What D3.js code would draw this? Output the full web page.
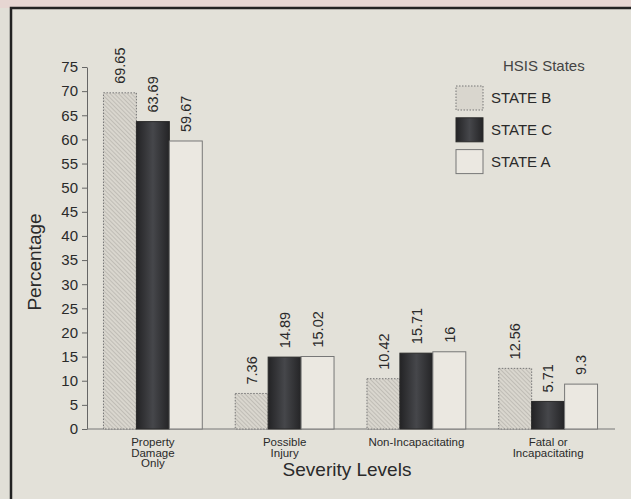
<!DOCTYPE html>
<html>
<head>
<meta charset="utf-8">
<script src="https://cdn.jsdelivr.net/npm/d3@7"></script>
<style>
  body { margin: 0; background: #e1dfd7; }
  svg { display: block; font-family: "Liberation Sans", Arial, sans-serif; }
</style>
</head>
<body>
<div id="chart"></div>
<script>
// chart values
var categories = ["Property Damage Only", "Possible Injury", "Non-Incapacitating", "Fatal or Incapacitating"];
var categoryLines = [["Property", "Damage", "Only"], ["Possible", "Injury"], ["Non-Incapacitating"], ["Fatal or", "Incapacitating"]];
var seriesNames = ["STATE B", "STATE C", "STATE A"];
var stateB = [69.65, 7.36, 10.42, 12.56];
var stateC = [63.69, 14.89, 15.71, 5.71];
var stateA = [59.67, 15.02, 16, 9.3];
var yTicks = [0, 5, 10, 15, 20, 25, 30, 35, 40, 45, 50, 55, 60, 65, 70, 75];

var svgWidth = 631;
var svgHeight = 499;

var margin = { top: 67, right: 16, bottom: 70, left: 87 };
var width = svgWidth - margin.left - margin.right;
var height = svgHeight - margin.top - margin.bottom;

var svg = d3.select("#chart")
    .append("svg")
    .attr("width", svgWidth)
    .attr("height", svgHeight);

// patterns and gradients for the bar fills
var defs = svg.append("defs");

var hatch = defs.append("pattern")
    .attr("id", "hatch")
    .attr("patternUnits", "userSpaceOnUse")
    .attr("width", 3)
    .attr("height", 3)
    .attr("patternTransform", "rotate(-45)");
hatch.append("rect").attr("width", 3).attr("height", 3).attr("fill", "#d9d6ce");
hatch.append("line")
    .attr("x1", 0).attr("y1", 0).attr("x2", 0).attr("y2", 3)
    .attr("stroke", "#9a9890").attr("stroke-width", 0.8);

var dark = defs.append("linearGradient")
    .attr("id", "darkfill")
    .attr("x1", "0%").attr("x2", "100%").attr("y1", "0%").attr("y2", "0%");
dark.append("stop").attr("offset", "0%").attr("stop-color", "#232325");
dark.append("stop").attr("offset", "50%").attr("stop-color", "#46474b");
dark.append("stop").attr("offset", "100%").attr("stop-color", "#242426");

var fills = ["url(#hatch)", "url(#darkfill)", "#ebe8e1"];
var strokes = ["#777", "#2a2a2a", "#777"];
var dashes = ["1.5,1.5", null, null];

// background and frame
svg.append("rect")
    .attr("x", 0).attr("y", 0).attr("width", svgWidth).attr("height", 8)
    .attr("fill", "#e6d6d2");
svg.append("rect")
    .attr("x", 11).attr("y", 8).attr("width", svgWidth).attr("height", svgHeight)
    .attr("fill", "#e3e1d9")
    .attr("stroke", "#222")
    .attr("stroke-width", 2.5);

var chartGroup = svg.append("g")
    .attr("transform", `translate(${margin.left}, ${margin.top})`);

// scales
var x0 = d3.scaleBand()
    .domain(categories)
    .range([0, width - 1])
    .paddingInner(0.25)
    .paddingOuter(0.125);

var x1 = d3.scaleBand()
    .domain(seriesNames)
    .range([0, x0.bandwidth()]);

var yScale = d3.scaleLinear()
    .domain([0, 75])
    .range([height, 0]);

var seriesValues = [stateB, stateC, stateA];
var rows = [];
categories.forEach(function(cat, i) {
    seriesNames.forEach(function(name, j) {
        rows.push({ cat: cat, name: name, idx: j, value: seriesValues[j][i] });
    });
});

// axes
var leftAxis = d3.axisLeft(yScale)
    .tickValues(yTicks)
    .tickSize(5)
    .tickSizeOuter(0);

var yAxisG = chartGroup.append("g").call(leftAxis);
yAxisG.select(".domain").attr("stroke", "#666");
yAxisG.selectAll(".tick line").attr("stroke", "#666");
yAxisG.selectAll(".tick text")
    .attr("x", -9)
    .attr("font-size", "15px")
    .attr("fill", "#2a2a2a")
    .attr("font-family", "Liberation Sans, Arial, sans-serif");

chartGroup.append("line")
    .attr("x1", 0).attr("x2", width)
    .attr("y1", height).attr("y2", height)
    .attr("stroke", "#777")
    .attr("stroke-width", 1);

// bars
chartGroup.selectAll(".bar")
    .data(rows)
    .enter()
    .append("rect")
    .attr("class", "bar")
    .attr("x", d => x0(d.cat) + x1(d.name))
    .attr("y", d => yScale(d.value))
    .attr("width", x1.bandwidth())
    .attr("height", d => height - yScale(d.value))
    .attr("fill", d => fills[d.idx])
    .attr("stroke", d => strokes[d.idx])
    .attr("stroke-dasharray", d => dashes[d.idx])
    .attr("stroke-width", 1);

// value labels
chartGroup.selectAll(".valueText")
    .data(rows)
    .enter()
    .append("text")
    .attr("class", "valueText")
    .attr("transform", d => `translate(${x0(d.cat) + x1(d.name) + x1.bandwidth() / 2}, ${yScale(d.value) - 9}) rotate(-90)`)
    .attr("dy", "0.36em")
    .attr("font-size", "14.5px")
    .attr("fill", "#2a2a2a")
    .attr("text-anchor", "start")
    .text(d => String(d.value));

// category labels
var catText = chartGroup.selectAll(".catText")
    .data(categories)
    .enter()
    .append("text")
    .attr("class", "catText")
    .attr("x", d => x0(d) + x0.bandwidth() / 2)
    .attr("y", height + 17)
    .attr("text-anchor", "middle")
    .attr("font-size", "11.5px")
    .attr("fill", "#2a2a2a");

catText.each(function(d, i) {
    var t = d3.select(this);
    categoryLines[i].forEach(function(line, k) {
        t.append("tspan")
            .attr("x", x0(d) + x0.bandwidth() / 2)
            .attr("dy", k === 0 ? 0 : "0.93em")
            .text(line);
    });
});

// axis titles
chartGroup.append("text")
    .attr("transform", `translate(${34 - margin.left}, ${262 - margin.top}) rotate(-90)`)
    .attr("text-anchor", "middle")
    .attr("dy", "0.35em")
    .attr("font-size", "19px")
    .attr("fill", "#2a2a2a")
    .text("Percentage");

chartGroup.append("text")
    .attr("x", 347 - margin.left)
    .attr("y", height + 47)
    .attr("text-anchor", "middle")
    .attr("font-size", "19px")
    .attr("fill", "#2a2a2a")
    .text("Severity Levels");

// legend
var legend = svg.append("g")
    .attr("transform", "translate(456, 0)");

legend.append("text")
    .attr("x", 47)
    .attr("y", 71)
    .attr("font-size", "15px")
    .attr("fill", "#444")
    .text("HSIS States");

var legendItem = legend.selectAll(".legendItem")
    .data(seriesNames)
    .enter()
    .append("g")
    .attr("class", "legendItem")
    .attr("transform", (d, i) => `translate(0, ${86 + i * 31.8})`);

legendItem.append("rect")
    .attr("width", 27)
    .attr("height", 24)
    .attr("fill", (d, i) => i === 0 ? "#d9d6ce" : fills[i])
    .attr("stroke", (d, i) => strokes[i])
    .attr("stroke-dasharray", (d, i) => dashes[i]);

legendItem.append("text")
    .attr("x", 35)
    .attr("y", 12)
    .attr("dy", "0.35em")
    .attr("font-size", "15px")
    .attr("fill", "#2a2a2a")
    .text(d => d);
</script>
</body>
</html>
